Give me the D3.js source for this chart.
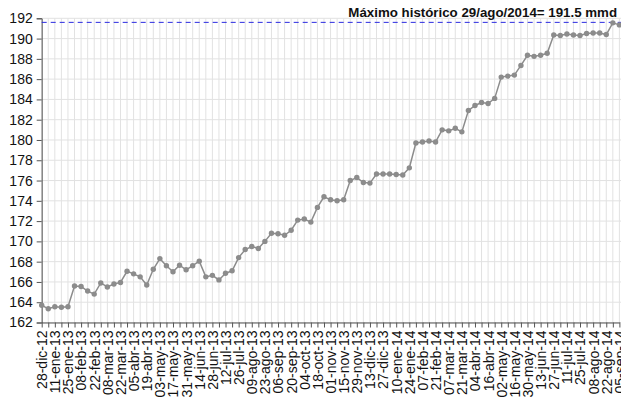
<!DOCTYPE html>
<html>
<head>
<meta charset="utf-8">
<script src="https://cdn.jsdelivr.net/npm/d3@7"></script>
<style>
  body { margin: 0; background: #fff; }
  svg { display: block; font-family: "Liberation Sans", Arial, sans-serif; }
</style>
</head>
<body>
<div id="chart"></div>
<script>
// Weekly values (one point per week, labels on every second week)
const values = [
  163.7, 163.35, 163.55, 163.5, 163.55, 165.6, 165.55, 165.1, 164.8, 165.9,
  165.5, 165.8, 165.95, 167.05, 166.8, 166.5, 165.7, 167.25, 168.3, 167.6,
  167.0, 167.65, 167.2, 167.6, 168.05, 166.5, 166.65, 166.2, 166.85, 167.1,
  168.4, 169.2, 169.5, 169.3, 170.0, 170.8, 170.75, 170.6, 171.1, 172.1,
  172.2, 171.9, 173.35, 174.4, 174.1, 174.0, 174.1, 176.0, 176.3, 175.8,
  175.75, 176.65, 176.65, 176.65, 176.6, 176.55, 177.25, 179.7, 179.8, 179.9,
  179.8, 181.0, 180.9, 181.15, 180.8, 182.9, 183.4, 183.7, 183.6, 184.1,
  186.2, 186.3, 186.4, 187.35, 188.35, 188.25, 188.35, 188.55, 190.35, 190.3,
  190.45, 190.35, 190.3, 190.5, 190.55, 190.55, 190.4, 191.55, 191.35
];

const tickLabels = [
  "28-dic-12", "11-ene-13", "25-ene-13", "08-feb-13", "22-feb-13", "08-mar-13",
  "22-mar-13", "05-abr-13", "19-abr-13", "03-may-13", "17-may-13", "31-may-13",
  "14-jun-13", "28-jun-13", "12-jul-13", "26-jul-13", "09-ago-13", "23-ago-13",
  "06-sep-13", "20-sep-13", "04-oct-13", "18-oct-13", "01-nov-13", "15-nov-13",
  "29-nov-13", "13-dic-13", "27-dic-13", "10-ene-14", "24-ene-14", "07-feb-14",
  "21-feb-14", "07-mar-14", "21-mar-14", "04-abr-14", "16-abr-14", "02-may-14",
  "16-may-14", "30-may-14", "13-jun-14", "27-jun-14", "11-jul-14", "25-jul-14",
  "08-ago-14", "22-ago-14", "05-sep-14"
];

const yTicks = d3.range(162, 193, 2);
const maxLabel = "Máximo histórico 29/ago/2014= 191.5 mmd";

const width = 621, height = 400;
const plot = { left: 41.7, right: 619.4, top: 18.3, bottom: 322.5 };

const svg = d3.select("#chart").append("svg")
  .attr("width", width)
  .attr("height", height);

const x = d3.scalePoint()
  .domain(d3.range(values.length))
  .range([plot.left, plot.right]);

const y = d3.scaleLinear()
  .domain([162, 192])
  .range([plot.bottom, plot.top]);

// Grid
svg.append("g")
  .selectAll("line")
  .data(x.domain())
  .join("line")
  .attr("x1", d => x(d)).attr("x2", d => x(d))
  .attr("y1", plot.top).attr("y2", plot.bottom)
  .attr("stroke", "#e2e2e2")
  .attr("stroke-width", 1);

svg.append("g")
  .selectAll("line")
  .data(yTicks)
  .join("line")
  .attr("x1", plot.left).attr("x2", width)
  .attr("y1", d => y(d)).attr("y2", d => y(d))
  .attr("stroke", "#e2e2e2")
  .attr("stroke-width", 1);

// Y axis
const yAxis = svg.append("g")
  .attr("transform", `translate(${plot.left},0)`)
  .call(d3.axisLeft(y).tickValues(yTicks).tickSize(5).tickPadding(4).tickFormat(d3.format("d")));
yAxis.select(".domain").attr("stroke", "#555");
yAxis.selectAll(".tick line").attr("stroke", "#555");
yAxis.selectAll("text")
  .attr("font-size", 14)
  .attr("fill", "#111")
  .attr("font-family", "Liberation Sans, Arial, sans-serif");

// X axis: tick on every week, label every second week
const xAxis = svg.append("g")
  .attr("transform", `translate(0,${plot.bottom})`)
  .call(d3.axisBottom(x).tickSize(5).tickSizeOuter(0)
    .tickFormat(i => i % 2 === 0 ? tickLabels[i / 2] : ""));
xAxis.select(".domain").attr("stroke", "#555");
xAxis.selectAll(".tick line").attr("stroke", "#555");
xAxis.selectAll("text")
  .attr("font-size", 14)
  .attr("fill", "#111")
  .attr("font-family", "Liberation Sans, Arial, sans-serif")
  .attr("transform", "rotate(-90)")
  .attr("text-anchor", "end")
  .attr("x", -8)
  .attr("y", 0)
  .attr("dy", "0.35em");

// Historic maximum line
const maxVal = d3.max(values);
svg.append("line")
  .attr("x1", plot.left).attr("x2", width)
  .attr("y1", y(maxVal) - 0.5).attr("y2", y(maxVal) - 0.5)
  .attr("stroke", "#2a2ae0")
  .attr("stroke-width", 1)
  .attr("stroke-dasharray", "5,4");

// Series
const line = d3.line()
  .x((d, i) => x(i))
  .y(d => y(d));

svg.append("path")
  .datum(values)
  .attr("d", line)
  .attr("fill", "none")
  .attr("stroke", "#8c8c8c")
  .attr("stroke-width", 1.5);

svg.append("g")
  .selectAll("circle")
  .data(values)
  .join("circle")
  .attr("cx", (d, i) => x(i))
  .attr("cy", d => y(d))
  .attr("r", 2.7)
  .attr("fill", "#8c8c8c");

// Annotation
svg.append("text")
  .attr("x", 617)
  .attr("y", 17)
  .attr("text-anchor", "end")
  .attr("font-size", 13.3)
  .attr("font-weight", "bold")
  .attr("fill", "#111")
  .text(maxLabel);
</script>
</body>
</html>
